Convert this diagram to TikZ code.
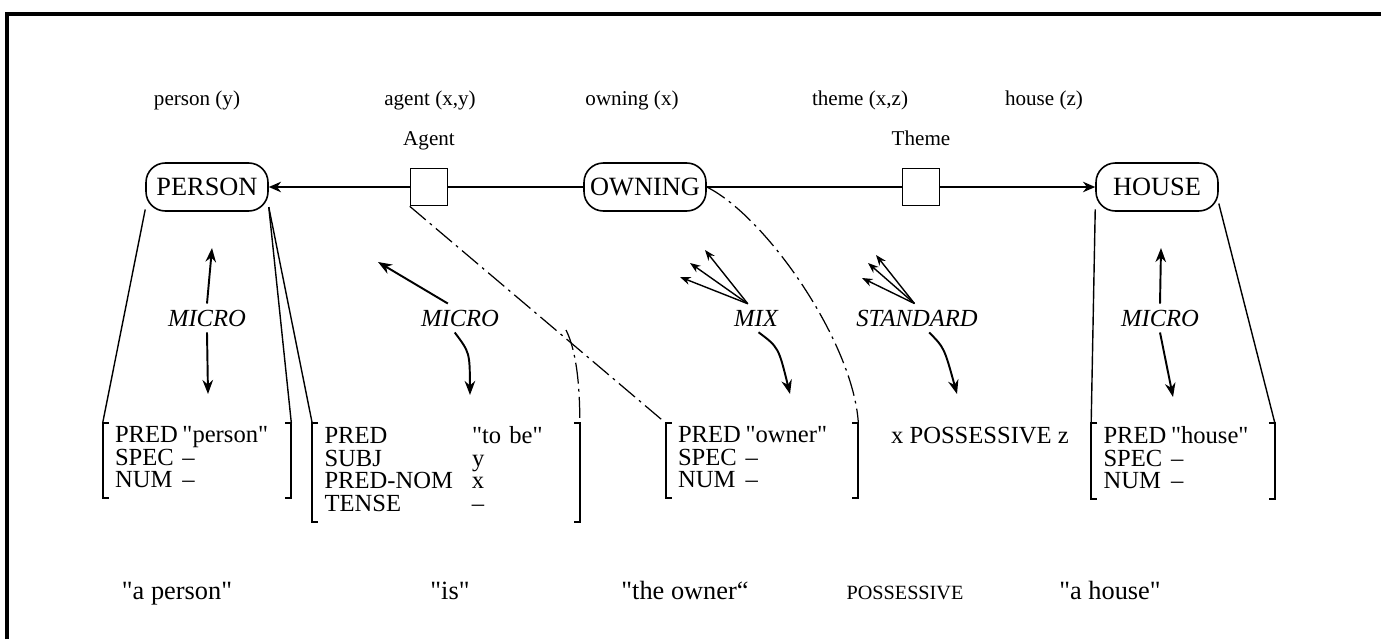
\documentclass[tikz,border=0pt]{standalone}
\usepackage{fontspec}
\setmainfont{Liberation Serif}
\usepackage{tikz}
\usetikzlibrary{positioning}
\usetikzlibrary{arrows.meta}
\usetikzlibrary{calc}
\newcommand{\qt}[1]{\textquotedbl#1\textquotedbl}
\tikzstyle{concept}=[rectangle,draw,rounded corners=11pt,minimum width=2.44cm,minimum height=0.96cm,inner sep=2pt,line width=0.9pt,font=\fontsize{15}{17}\selectfont]
\tikzstyle{relbox}=[rectangle,draw,minimum size=0.74cm,inner sep=0pt,line width=0.9pt]
\tikzstyle{edge} = [draw,line width=0.8pt,-{Stealth[length=7pt,width=6pt]}]
\tikzstyle{plainedge} = [draw,line width=0.8pt]
\tikzstyle{dashedge} = [draw,line width=0.7pt,dash pattern=on 12pt off 3pt on 1.5pt off 3pt]
\tikzstyle{gen} = [draw,line width=1.1pt,-{Stealth[length=8pt,width=6pt]}]
\tikzstyle{fan} = [draw,line width=0.8pt,-{Stealth[length=6pt,width=4.5pt]}]
\tikzset{toplabel/.style={font=\fontsize{12}{14}\selectfont,text height=1.6ex,text depth=0.4ex},
         method/.style={font=\fontsize{14}{16}\selectfont\itshape},
         avm/.style={align=left,anchor=north,inner xsep=0.24cm,inner ysep=2pt,font=\fontsize{14}{11.8}\selectfont},
         phrase/.style={font=\fontsize{15}{17}\selectfont,anchor=base},
         frame/.style={line width=2pt}}

\begin{document}
\begin{tikzpicture}[x=0.02cm,y=-0.02cm]
  \useasboundingbox (0,0) rectangle (1381,639);
  \draw[frame] (7,639) -- (7,14) -- (1381,14);

  \foreach \x/\name/\label in {197/pP/{person (y)}, 430/pA/{agent (x,y)}, 632/pO/{owning (x)}, 860/pT/{theme (x,z)}, 1044/pH/{house (z)}}
          \node[toplabel] (\name) at (\x,101) {\label};

  % concept graph
  \node[concept] (person) at (207,187) {PERSON};
  \node[concept] (owning) at (645,187) {OWNING};
  \node[concept] (house) at (1157,187) {HOUSE};
  \node[relbox] (agent) at (429,187) {};
  \node[relbox] (theme) at (921,187) {};
  \node[toplabel, above=0.26cm of agent] (agentlbl) {Agent};
  \node[toplabel, above=0.26cm of theme] (themelbl) {Theme};

  \path[edge] (agent) -- (person);
  \path[plainedge] (agent) -- (owning);
  \path[plainedge] (owning) -- (theme);
  \path[edge] (theme) -- (house);

  % feature structures
  \node[avm, text width=3.28cm] (avmP) at (197,423) {\begin{tabular}{@{}p{1.35cm}@{}l@{}}PRED & \qt{person}\\ SPEC & --\\ NUM & --\end{tabular}};
  \node[avm, text width=4.86cm] (avmB) at (446,423) {\begin{tabular}{@{}p{2.95cm}@{}l@{}}PRED & \qt{to be}\\ SUBJ & y\\ PRED-NOM & x\\ TENSE & --\end{tabular}};
  \node[avm, text width=3.36cm] (avmO) at (762,423) {\begin{tabular}{@{}p{1.35cm}@{}l@{}}PRED & \qt{owner}\\ SPEC & --\\ NUM & --\end{tabular}};
  \node[avm, text width=3.18cm] (avmH) at (1183,423) {\begin{tabular}{@{}p{1.35cm}@{}l@{}}PRED & \qt{house}\\ SPEC & --\\ NUM & --\end{tabular}};
  \node[avm, inner xsep=0pt] (poss) at (980,423) {x POSSESSIVE z};

  \foreach \n in {avmP,avmB,avmO,avmH} {
    \draw[line width=1.1pt] ($(\n.north west)+(6,0)$) -- (\n.north west) -- (\n.south west) -- ++(6,0);
    \draw[line width=1.1pt] ($(\n.north east)+(-6,0)$) -- (\n.north east) -- (\n.south east) -- ++(-6,0);
  }

  % scope lines
  \path[plainedge] (person.200) -- (avmP.north west);
  \path[plainedge] (person.-18) -- (avmP.north east);
  \path[plainedge] (person.-18) -- (avmB.north west);
  \path[plainedge] (house.200) -- (avmH.north west);
  \path[plainedge] (house.-15) -- (avmH.north east);
  \coordinate (tobe) at (566,330);
  \path[dashedge] (agent.south west) -- (avmO.north west);
  \path[dashedge] (tobe) .. controls +(10,20) and +(0,-40) .. (avmB.north east);
  \path[dashedge] (owning.east) .. controls +(60,30) and +(-5,-80) .. (avmO.north east);

  % generation methods
  \node[method] (mP) at (207,318) {MICRO};
  \node[method] (mB) at (460,318) {MICRO};
  \node[method] (mix) at (756,318) {MIX};
  \node[method] (std) at (917,318) {STANDARD};
  \node[method] (mH) at (1160,318) {MICRO};

  \foreach \x/\y/\name in {212/248/upP, 208/394/dnP, 378/262/upB, 470/395/dnB, 705/250/mixA, 690/263/mixB, 680/277/mixC, 790/394/dnO, 876/255/stdA, 868/263/stdB, 862/278/stdC, 957/394/dnT, 1161/248/upH, 1173/397/dnH}
          \coordinate (\name) at (\x,\y);

  \path[gen] (mP.north) -- (upP);
  \path[gen] (mP.south) -- (dnP);
  \path[gen] (mB.130) -- (upB);
  \path[gen] (mB.-110) .. controls +(15,20) .. (dnB);
  \foreach \h in {mixA,mixB,mixC}
          \path[fan] (mix.120) -- (\h);
  \path[gen] (mix.-80) .. controls +(20,15) .. (dnO);
  \foreach \h in {stdA,stdB,stdC}
          \path[fan] (std.100) -- (\h);
  \path[gen] (std.-50) .. controls +(15,15) .. (dnT);
  \path[gen] (mH.north) -- (upH);
  \path[gen] (mH.south) -- (dnH);

  % surface strings
  \foreach \x/\name/\label in {177/sP/{\qt{a person}}, 450/sB/{\qt{is}}, 685/sO/{\textquotedbl the owner“}, 1110/sH/{\qt{a house}}}
          \node[phrase] (\name) at (\x,599) {\label};
  \node[phrase, font=\fontsize{11.5}{13}\selectfont] (sT) at (905,599) {POSSESSIVE};
\end{tikzpicture}
\end{document}
